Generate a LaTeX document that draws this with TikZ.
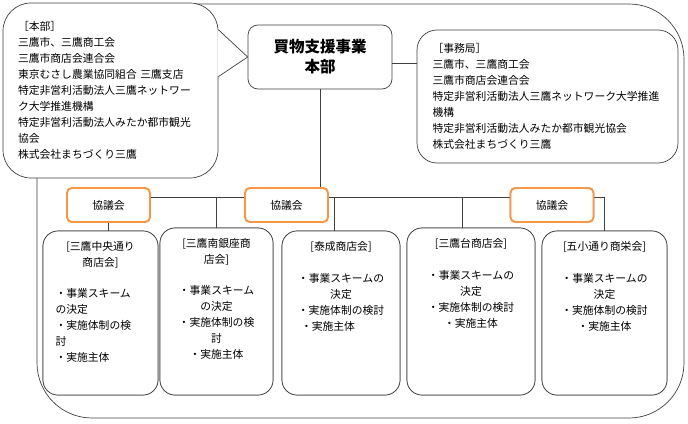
\documentclass[tikz,border=0pt]{standalone}
\usepackage{fontspec}
\setmainfont{Noto Sans CJK JP}
\usetikzlibrary{positioning}
\definecolor{kyorange}{HTML}{F79646}
\definecolor{linegray}{HTML}{404040}
\tikzset{
  every node/.style={font=\fontsize{10.8}{16}\selectfont},
  line/.style={draw=linegray, line width=0.7pt},
  frame/.style={line, rounded corners=55},
  callout/.style={line, fill=white, rounded corners=28, minimum width=215, minimum height=175, text width=185, align=left, inner sep=0},
  hqbox/.style={line, fill=white, rounded corners=10, minimum width=144, minimum height=64, align=center, font=\fontsize{15.5}{20}\selectfont\bfseries},
  officebox/.style={line, fill=white, rounded corners=20, minimum width=261, minimum height=133, text width=230, align=left, inner sep=0},
  council/.style={draw=kyorange, line width=1.8pt, fill=white, rounded corners=5, minimum width=83, minimum height=34, inner sep=0},
  shopbox/.style={line, fill=white, rounded corners=15},
  shoptext/.style={anchor=north, inner sep=0, align=center}
}
\begin{document}
\begin{tikzpicture}[x=1pt, y=-1pt]
\useasboundingbox (0,0) rectangle (688,423);
\draw[frame] (37,4) rectangle (684,418);
\coordinate (H) at (318,197);
\node[council] (K1) at (108.5,205) {};
\node[council] (K2) at (286.5,205) {};
\node[council] (K3) at (552,205) {};
\node[shopbox, minimum width=115, minimum height=164] (S1) at (100.5,313) {};
\node[shopbox, minimum width=113, minimum height=167] (S2) at (216.5,311.5) {};
\node[shopbox, minimum width=118, minimum height=164] (S3) at (341,313) {};
\node[shopbox, minimum width=128, minimum height=167] (S4) at (471,311.5) {};
\node[shopbox, minimum width=125, minimum height=164] (S5) at (604.5,313) {};
\node[hqbox] (B0) at (320,57) {買物支援事業\\本部};
\node[officebox] (R0) at (547.5,96.5) {［事務局］\\三鷹市、三鷹商工会\\三鷹市商店会連合会\\特定非営利活動法人三鷹ネットワーク大学推進\\機構\\特定非営利活動法人みたか都市観光協会\\株式会社まちづくり三鷹};
\path[line]
(B0.south) edge (B0.south |- H)
([yshift=-6]B0.east) edge ([yshift=-6]B0.east -| R0.west)
(K1.east |- H) edge (K2.west |- H)
(K2.east |- H) edge (K3.west |- H)
(K1.south) edge (K1.south |- S1.north)
(S2.north |- H) edge (S2.north)
([xshift=5]K2.east |- H) edge ([xshift=5]K2.east |- S3.north)
([xshift=-9]S4.north |- H) edge ([xshift=-9]S4.north);
\draw[line] (K3.east |- H) -| (S5.north);
\node[council] at (K1) {協議会};
\node[council] at (K2) {協議会};
\node[council] at (K3) {協議会};
\node[shopbox, minimum width=115, minimum height=164] at (S1) {};
\node[shopbox, minimum width=113, minimum height=167] at (S2) {};
\node[shopbox, minimum width=118, minimum height=164] at (S3) {};
\node[shopbox, minimum width=128, minimum height=167] at (S4) {};
\node[shopbox, minimum width=125, minimum height=164] at (S5) {};
\node[callout] (C0) at (110.5,90.5) {［本部］\\三鷹市、三鷹商工会\\三鷹市商店会連合会\\東京むさし農業協同組合 三鷹支店\\特定非営利活動法人三鷹ネットワー\\ク大学推進機構\\特定非営利活動法人みたか都市観光\\協会\\株式会社まちづくり三鷹};
\fill[white] ([xshift=-1,yshift=-27]C0.north east) -- (B0.west) -- ([xshift=-1,yshift=-74]C0.north east) -- cycle;
\draw[line] ([yshift=-27]C0.north east) -- (B0.west) -- ([yshift=-74]C0.north east);
\node[shoptext, text width=90, align=left, below=11pt of S1.north] (T1) {{\centering [三鷹中央通り\\商店会]\par}\vspace{15pt}・事業スキーム\\の決定\\・実施体制の検\\討\\・実施主体};
\node[shoptext, below=11pt of S2.north] (T2) {[三鷹南銀座商\\店会]\\[15pt]・事業スキーム\\の決定\\・実施体制の検\\討\\・実施主体};
\node[shoptext, below=11pt of S3.north] (T3) {[泰成商店会]\\[16pt]・事業スキームの\\決定\\・実施体制の検討\\・実施主体\hspace*{26pt}};
\node[shoptext, below=11pt of S4.north] (T4) {[三鷹台商店会]\\[16pt]・事業スキームの\\決定\\・実施体制の検討\\・実施主体};
\node[shoptext, below=11pt of S5.north] (T5) {[五小通り商栄会]\\[16pt]・事業スキームの\\決定\\・実施体制の検討\\・実施主体};
\end{tikzpicture}
\end{document}
